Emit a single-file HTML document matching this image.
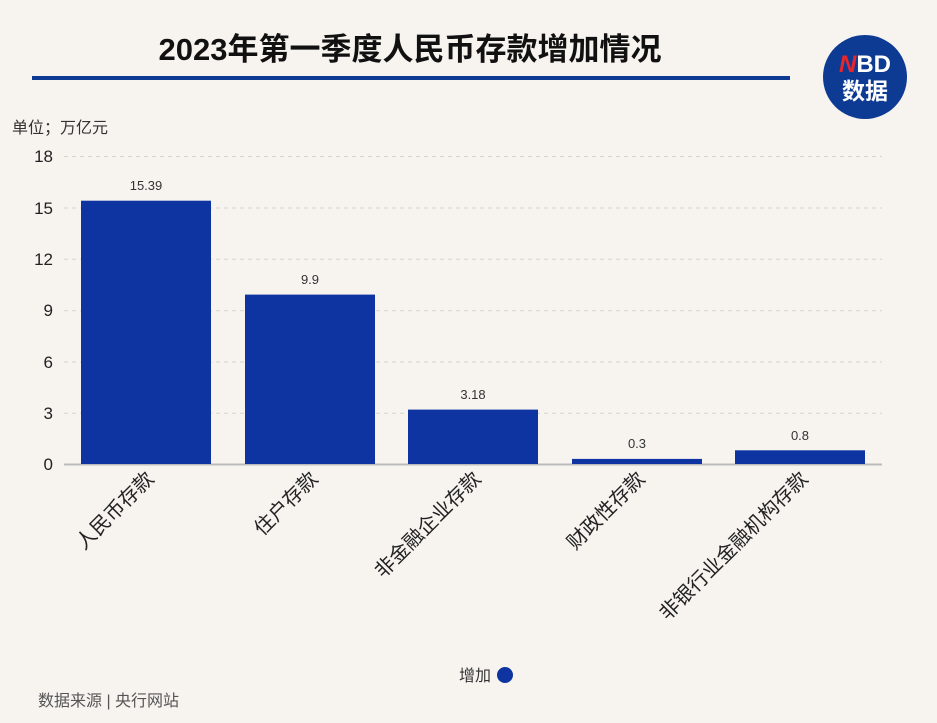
<!DOCTYPE html>
<html><head><meta charset="utf-8"><style>
body{margin:0;background:#f7f4f0;}
svg{display:block;font-family:"Liberation Sans","Noto Sans CJK SC",sans-serif;}
</style></head><body>
<svg width="937" height="723" viewBox="0 0 937 723" xmlns="http://www.w3.org/2000/svg">
<rect width="937" height="723" fill="#f7f4f0"/>
<text x="410" y="60" font-size="31" font-weight="bold" text-anchor="middle" fill="#111">2023年第一季度人民币存款增加情况</text>
<rect x="32" y="76" width="758" height="4" fill="#0d3b94"/>
<circle cx="865" cy="77" r="42" fill="#0d3b94"/>
<text x="865" y="72" font-size="24" font-weight="bold" text-anchor="middle" fill="#fff"><tspan fill="#e8262c" font-style="italic">N</tspan>BD</text>
<text x="865" y="99" font-size="23" font-weight="bold" text-anchor="middle" fill="#fff">数据</text>
<text x="12" y="133" font-size="16" fill="#333">单位；万亿元</text>
<g stroke="#d6d3cf" stroke-dasharray="4,4" stroke-width="1">
<line x1="64" x2="882" y1="156.5" y2="156.5"/><line x1="64" x2="882" y1="208" y2="208"/>
<line x1="64" x2="882" y1="259.3" y2="259.3"/><line x1="64" x2="882" y1="310.7" y2="310.7"/>
<line x1="64" x2="882" y1="362" y2="362"/><line x1="64" x2="882" y1="413.3" y2="413.3"/>
</g>
<line x1="64" x2="882" y1="464.5" y2="464.5" stroke="#bbb" stroke-width="2"/>
<g font-size="17" fill="#222" text-anchor="end">
<text x="53" y="162">18</text><text x="53" y="214">15</text><text x="53" y="265">12</text>
<text x="53" y="316">9</text><text x="53" y="368">6</text><text x="53" y="419">3</text><text x="53" y="470">0</text>
</g>
<g fill="#0d34a0">
<rect x="81" y="200.7" width="130" height="263.3"/>
<rect x="245" y="294.6" width="130" height="169.4"/>
<rect x="408" y="409.6" width="130" height="54.4"/>
<rect x="572" y="458.9" width="130" height="5.1"/>
<rect x="735" y="450.3" width="130" height="13.7"/>
</g>
<g font-size="13" fill="#333" text-anchor="middle">
<text x="146" y="190">15.39</text><text x="310" y="284">9.9</text><text x="473" y="399">3.18</text>
<text x="637" y="448">0.3</text><text x="800" y="440">0.8</text>
</g>
<g font-size="20" fill="#222" text-anchor="end">
<text transform="translate(155,480) rotate(-45)">人民币存款</text>
<text transform="translate(319,480) rotate(-45)">住户存款</text>
<text transform="translate(482,480) rotate(-45)">非金融企业存款</text>
<text transform="translate(646,480) rotate(-45)">财政性存款</text>
<text transform="translate(809,480) rotate(-45)">非银行业金融机构存款</text>
</g>
<text x="491" y="681" font-size="16" fill="#333" text-anchor="end">增加</text>
<circle cx="505" cy="675" r="8" fill="#0d34a0"/>
<text x="38" y="706" font-size="16" fill="#555">数据来源 | 央行网站</text>
</svg>
</body></html>
